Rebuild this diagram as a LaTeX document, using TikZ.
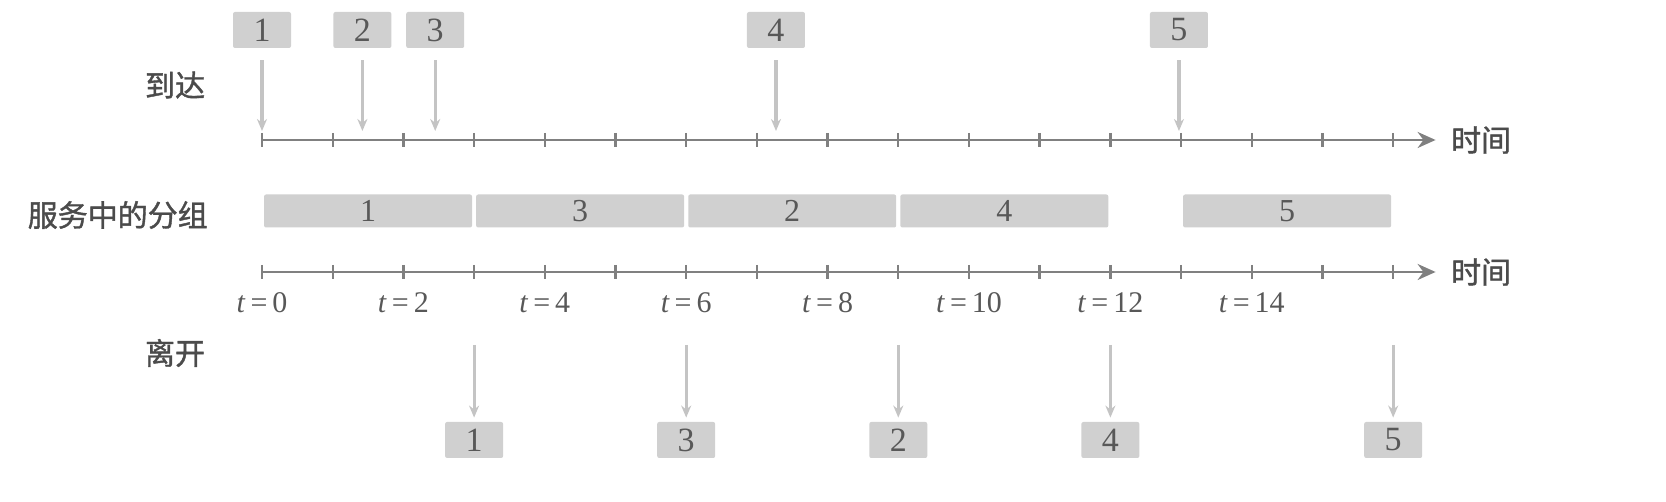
\documentclass[tikz,border=0pt]{standalone}
\usepackage{fontspec}
\setmainfont{Liberation Serif}
\newfontfamily\cjk{Noto Sans CJK SC}[FakeBold=1.3]
\usetikzlibrary{arrows.meta}
\definecolor{axisgray}{RGB}{128,128,128}
\definecolor{boxgray}{RGB}{208,208,208}
\definecolor{arrgray}{RGB}{196,196,196}
\definecolor{txtgray}{RGB}{88,88,88}

\begin{document}
\begin{tikzpicture}[
  % one time unit is one tick step on the axes
  x=35.35pt,
  % y counts down from the top edge, half a point per step
  y=-0.5pt,
  axis/.style={draw=axisgray, line width=1.2pt, -{Stealth[length=9pt,width=8pt]}},
  tick/.style={draw=axisgray, line width=1.2pt},
  arr/.style={draw=arrgray, line width=1.6pt, -{Stealth[length=6pt,width=5pt]}},
  pkt/.style={fill=boxgray, rounded corners=1pt, minimum width=29pt,
    minimum height=18pt, inner sep=0pt, text=txtgray, font=\fontsize{17}{17}\selectfont},
  bar/.style={fill=boxgray, rounded corners=1pt, minimum height=16.5pt,
    inner sep=0pt, text=txtgray, font=\fontsize{16}{16}\selectfont},
  rowlabel/.style={text=txtgray!85!black, font=\cjk\fontsize{15}{15}\selectfont},
  tlabel/.style={text=txtgray, font=\fontsize{15}{15}\selectfont}
]
\useasboundingbox (-3.706,0) rectangle (19.859,502);

% row titles on the left
\node[rowlabel] (arrive) at (-1.23,85) {到达};
\node[rowlabel] (busy) at (-2.04,215) {服务中的分组};
\node[rowlabel] (leave) at (-1.23,353) {离开};

% 1) Upper time axis with the arrivals
\draw[axis] (0,140) -- (16.6,140);
\foreach \t in {0,...,16}
  \draw[tick] (\t,133) -- (\t,147);
\node[rowlabel, anchor=west] (time1) at (16.72,140) {时间};

\foreach \i/\t in {1/0,2/1.42,3/2.45,4/7.27,5/12.97} {
  \node[pkt] (a\i) at (\t,30) {\i};
  \coordinate (ha\i) at (\t,131);
  \draw[arr, shorten <=6pt] (a\i) -- (ha\i);
}

% 2) Packets in service, three time units each
\foreach \i/\s in {1/0,3/3,2/6,4/9,5/13}
  \node[bar, minimum width=104pt] (s\i) at (\s+1.5,211) {\i};

% 3) Lower time axis with the departures
\draw[axis] (0,272) -- (16.6,272);
\foreach \t in {0,...,16}
  \draw[tick] (\t,265) -- (\t,279);
\node[rowlabel, anchor=west] (time2) at (16.72,272) {时间};
\foreach \t in {0,2,...,14}
  \node[tlabel] (lab\t) at (\t,303) {\textit{t}\,=\,\t};

\foreach \i/\t in {1/3,3/6,2/9,4/12,5/16} {
  \node[pkt] (d\i) at (\t,440) {\i};
  \coordinate (hd\i) at (\t,345);
  \draw[arr, shorten >=2pt] (hd\i) -- (d\i);
}

\end{tikzpicture}
\end{document}
